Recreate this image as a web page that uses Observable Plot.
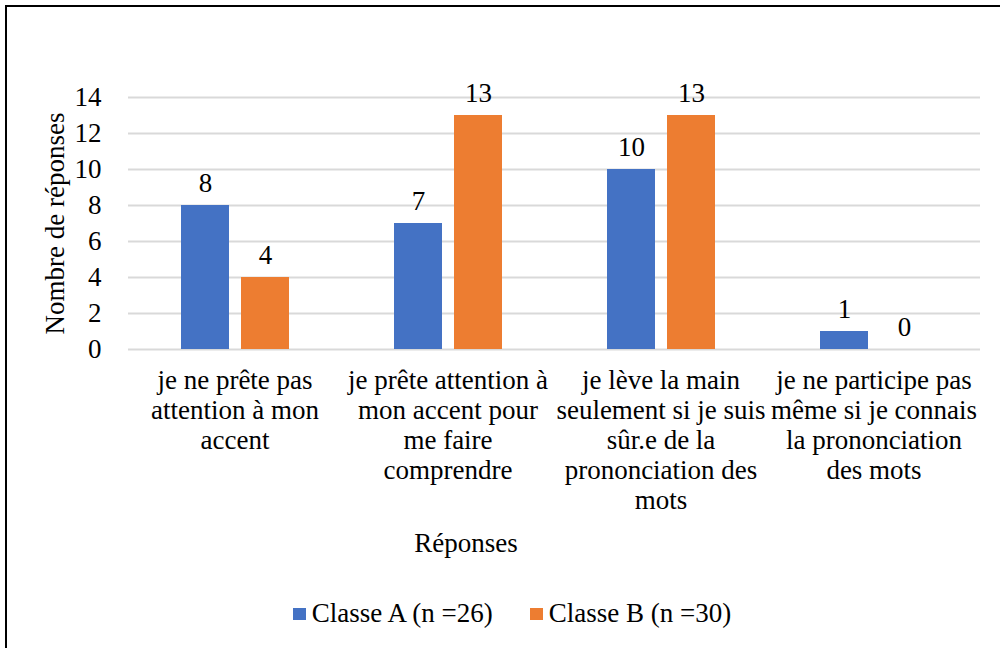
<!DOCTYPE html>
<html>
<head>
<meta charset="utf-8">
<script src="https://cdn.jsdelivr.net/npm/d3@7"></script>
<script src="https://cdn.jsdelivr.net/npm/@observablehq/plot@0.6"></script>
<style>
  html, body { margin: 0; padding: 0; background: #fff; overflow: hidden; }
  #page { position: relative; width: 1000px; height: 648px; overflow: hidden; font-family: "Liberation Serif", "Times New Roman", serif; }
  #frame { position: absolute; left: 5px; top: 5px; width: 1100px; height: 800px; border: 2px solid #000; box-sizing: border-box; }
  #chart { position: absolute; left: 0; top: 0; }
  #chart svg text, #chart svg tspan { font-family: "Liberation Serif", "Times New Roman", serif !important; }
  #xtitle { position: absolute; left: 366px; width: 200px; top: 525px; text-align: center; font-size: 27px; line-height: 36px; color: #000; }
  #legend { position: absolute; left: 12px; top: 598px; width: 1000px; display: flex; justify-content: center; gap: 37px; font-size: 27px; color: #000; }
  .item { display: flex; align-items: center; gap: 6px; }
  .sw { width: 13px; height: 12px; display: inline-block; }
</style>
</head>
<body>
<div id="page">
  <div id="frame"></div>
  <div id="chart"></div>
  <div id="xtitle"></div>
  <div id="legend"></div>
</div>
<script>
const categories = [
  "je ne prête pas attention à mon accent",
  "je prête attention à mon accent pour me faire comprendre",
  "je lève la main seulement si je suis sûr.e de la prononciation des mots",
  "je ne participe pas même si je connais la prononciation des mots"
];
const categoryLines = [
  "je ne prête pas\nattention à mon\naccent",
  "je prête attention à\nmon accent pour\nme faire\ncomprendre",
  "je lève la main\nseulement si je suis\nsûr.e de la\nprononciation des\nmots",
  "je ne participe pas\nmême si je connais\nla prononciation\ndes mots"
];
const series = ["Classe A (n =26)", "Classe B (n =30)"];
const colors = ["#4472C4", "#ED7D31"];
const classeA = [8, 7, 10, 1];
const classeB = [4, 13, 13, 0];
const yTicks = [0, 2, 4, 6, 8, 10, 12, 14];
const xTitle = "Réponses";
const yTitle = "Nombre de réponses";

const data = [];
categories.forEach((c, i) => {
  data.push({category: c, serie: series[0], value: classeA[i]});
  data.push({category: c, serie: series[1], value: classeB[i]});
});
const labelOf = new Map(categories.map((c, i) => [c, categoryLines[i]]));

const chart = Plot.plot({
  width: 1000,
  height: 560,
  marginLeft: 127,
  marginRight: 20,
  marginTop: 97,
  marginBottom: 211,
  style: {fontFamily: "'Liberation Serif', 'Times New Roman', serif", fontSize: "27px", color: "#000", background: "transparent"},
  fx: {domain: categories, padding: 0},
  x: {domain: series, paddingInner: 0.2, paddingOuter: 0.86, axis: null},
  y: {domain: [0, 14]},
  color: {domain: series, range: colors},
  marks: [
    Plot.gridY(yTicks, {stroke: "#d9d9d9", strokeOpacity: 1, strokeWidth: 2}),
    Plot.axisY(yTicks, {
      tickSize: 0, tickPadding: 27, fontSize: 27, fill: "#000",
      label: yTitle, labelAnchor: "center", labelOffset: 84, labelArrow: "none"
    }),
    Plot.axisFx({
      anchor: "bottom",
      tickSize: 0, tickPadding: 18, fontSize: 27, fill: "#000", lineHeight: 1.11,
      tickFormat: d => labelOf.get(d),
      label: null
    }),
    Plot.barY(data, {fx: "category", x: "serie", y: "value", fill: "serie"}),
    Plot.text(data, {fx: "category", x: "serie", y: "value", text: d => String(d.value), dy: -22, fontSize: 27, fill: "#000"})
  ]
});
document.getElementById("chart").appendChild(chart);
document.getElementById("xtitle").textContent = xTitle;

const legend = document.getElementById("legend");
series.forEach((s, i) => {
  const item = document.createElement("div");
  item.className = "item";
  const sw = document.createElement("span");
  sw.className = "sw";
  sw.style.background = colors[i];
  const lab = document.createElement("span");
  lab.textContent = s;
  item.appendChild(sw);
  item.appendChild(lab);
  legend.appendChild(item);
});
</script>
</body>
</html>
